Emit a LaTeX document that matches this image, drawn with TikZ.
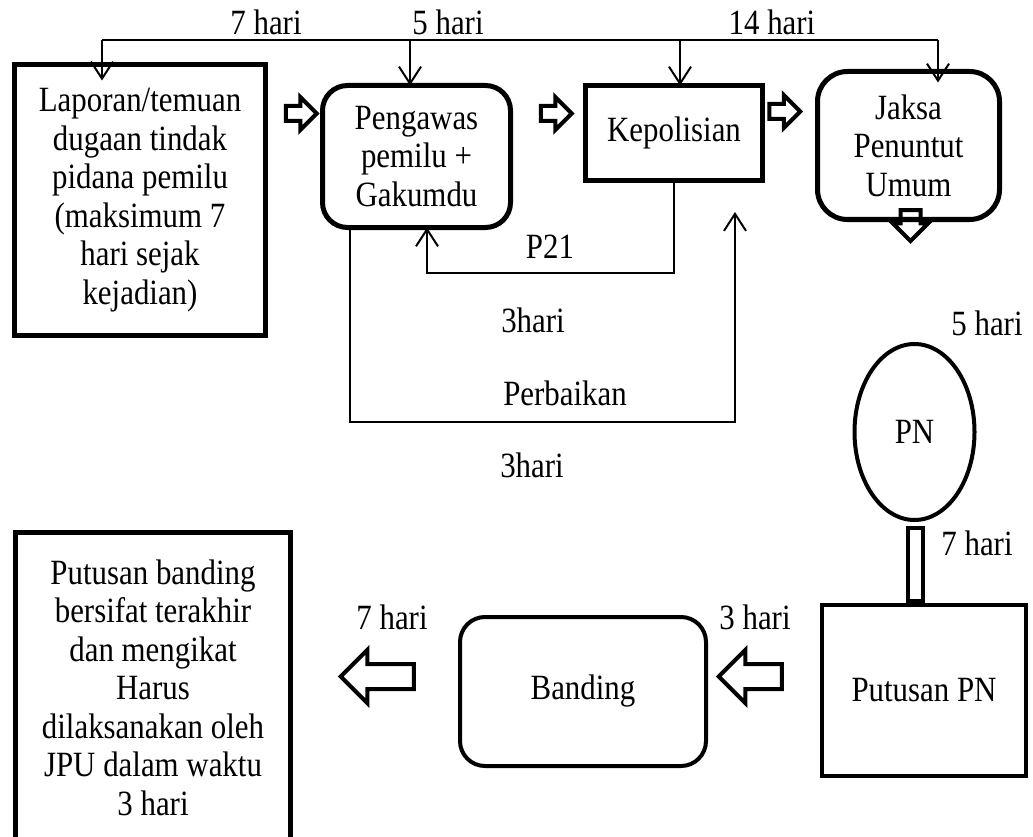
\documentclass[tikz,border=0pt]{standalone}
\usepackage{fontspec}
\setmainfont[FakeStretch=0.87]{Liberation Serif}
\usepackage{tikz}
\usetikzlibrary{arrows.meta,shapes.geometric,shapes.arrows}
\tikzset{
    boxnode/.style = {
        align=center,
        rectangle,
        draw=black,
        line width=5pt,
        inner sep=0pt,
        outer sep=0pt
    },
    roundnode/.style = {
        boxnode,
        rounded corners=25pt
    },
    lowboxnode/.style = {
        boxnode,
        line width=4pt
    },
    daynode/.style = {
        inner sep=0pt
    },
    thinline/.style = {
        line width=2pt
    },
    flowline/.style = {
        thinline,
        -{Straight Barb[length=17pt,width=22pt]}
    },
    blockarrow/.style = {
        single arrow,
        draw=black,
        line width=4pt,
        inner xsep=0pt,
        inner ysep=5.5pt,
        single arrow head extend=9pt,
        minimum height=31pt
    },
    bigblockarrow/.style = {
        blockarrow,
        inner ysep=10.5pt,
        single arrow head extend=14pt,
        minimum height=73pt
    }
}

\begin{document}
\begin{tikzpicture}[x=1pt, y=-1pt, font=\fontsize{35.5}{38.5}\selectfont]
    \useasboundingbox (0,0) rectangle (1033,837);
    % upper row
    \node [boxnode, minimum width=251pt, minimum height=271pt] (lap) at (140,200)
        {Laporan/temuan\\dugaan tindak\\pidana pemilu\\(maksimum 7\\hari sejak\\kejadian)};
    \node [roundnode, minimum width=188pt, minimum height=142pt] (pgw) at (416.5,156.5)
        {Pengawas\\pemilu +\\Gakumdu};
    \node [boxnode, minimum width=177pt, minimum height=95pt] (kep) at (674,133) {Kepolisian};
    \node [roundnode, rounded corners=30pt, minimum width=182pt, minimum height=148pt] (jpu) at (908.5,145.5)
        {Jaksa\\Penuntut\\Umum};
    \node [blockarrow] (ba1) at (297.5,113.5) {};
    \node [blockarrow] (ba2) at (552.5,113.5) {};
    \node [blockarrow] (ba3) at (781,111.5) {};
    \node [blockarrow, rotate=-90, inner ysep=8pt, single arrow head extend=7.5pt] (ba4) at (910.5,220.5) {};
    % time line on top
    \coordinate (busL) at (102,40);
    \coordinate (busA) at (410,40);
    \coordinate (busB) at (680,40);
    \coordinate (busR) at (938,40);
    \draw [thinline] (busL) -- (busR);
    \draw [flowline] (busL) -- ([yshift=-16pt]lap.north -| busL);
    \draw [flowline] (busA) -- (pgw.north -| busA);
    \draw [flowline] (busB) -- (kep.north -| busB);
    \draw [flowline] (busR) -- ([yshift=-11pt]jpu.north -| busR);
    \node [daynode] (d1) at (266,22) {7 hari};
    \node [daynode] (d2) at (448,22) {5 hari};
    \node [daynode] (d3) at (772,22) {14 hari};
    % P21 and perbaikan
    \coordinate (p21) at (427,273);
    \draw [flowline] (kep.south) |- (p21) -- (p21 |- pgw.south);
    \coordinate (pbL) at (350,422);
    \coordinate (pbTip) at (735,212);
    \draw [flowline] (pbL |- pgw.south) -- (pbL) -| (pbTip);
    \node [daynode] (lp21) at (550,247) {P21};
    \node [daynode] (d4) at (533,320) {3hari};
    \node [daynode] (lpb) at (565,393) {Perbaikan};
    \node [daynode] (d5) at (532,465) {3hari};
    \node [daynode] (d6) at (987,323) {5 hari};
    % lower row
    \node [ellipse, draw=black, line width=4pt, inner sep=0pt, minimum width=120pt, minimum height=176pt] (pn) at (914.5,432) {PN};
    \node [lowboxnode, minimum width=15pt, minimum height=73pt] (bar) at (915.5,564.5) {};
    \node [daynode] (d7) at (977,543) {7 hari};
    \node [lowboxnode, minimum width=204pt, minimum height=171pt] (putpn) at (924,690.5) {Putusan PN};
    \node [lowboxnode, rounded corners=25pt, minimum width=246pt, minimum height=149pt] (band) at (583,691.5) {Banding};
    \node [boxnode, minimum width=275pt, minimum height=310pt] (final) at (153,687.5)
        {Putusan banding\\bersifat terakhir\\dan mengikat\\Harus\\dilaksanakan oleh\\JPU dalam waktu\\3 hari};
    \node [bigblockarrow, rotate=180] (ba5) at (383.5,676.5) {};
    \node [bigblockarrow, rotate=180, minimum height=63pt] (ba6) at (756.5,676.5) {};
    \node [daynode] (d8) at (392,617) {7 hari};
    \node [daynode] (d9) at (755,617) {3 hari};
\end{tikzpicture}
\end{document}
